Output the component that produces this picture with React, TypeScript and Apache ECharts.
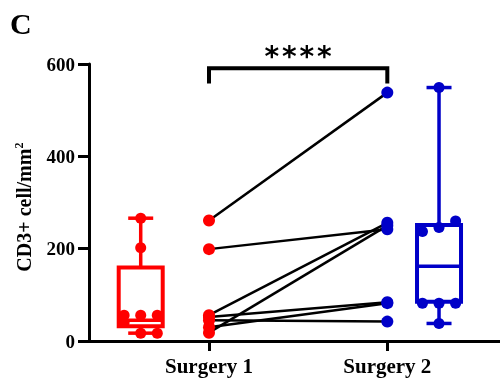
import React, { useEffect, useRef } from "react";
import * as echarts from "echarts";

const categories = ["Surgery 1", "Surgery 2"];
const surgery1Paired = [261, 199, 56, 52, 45, 30, 18];
const surgery2Paired = [538, 242, 256, 84, 42, 82, 250];
// [min, Q1, median, Q3, max]
const boxSurgery1 = [17, 32, 45, 159, 266];
const boxSurgery2 = [38, 85, 162, 251, 549];
const boxPoints1 = [266, 202, 56, 56, 56, 40, 17, 17];
const boxJitter1 = [0, 0, -1, 0, 1, -1, 0, 1];
const boxPoints2 = [549, 260, 246, 237, 82, 82, 82, 38];
const boxJitter2 = [0, 1, 0, -1, -1, 0, 1, 0];
const yTickValues = [0, 200, 400, 600];
const significance = "****";
const yTitle = "CD3+ cell/mm";
const yTitleSup = "2";

const RED = "#ff0000";
const BLUE = "#0000c8";
const FONT = "Liberation Serif";

const pairX = [1, 2];
const boxX = [0.617, 2.29];
const JIT = 0.093;

export default function App() {
  const ref = useRef<HTMLDivElement>(null);
  useEffect(() => {
    if (!ref.current) return;
    const chart = echarts.init(ref.current, null, { renderer: "svg" });

    const pairSeries = surgery1Paired.map((v, i) => ({
      type: "line",
      data: [
        [pairX[0], v],
        [pairX[1], surgery2Paired[i]],
      ],
      symbol: "none",
      lineStyle: { color: "#000", width: 2.5 },
      z: 3,
      silent: true,
    }));

    const boxData = [
      [boxX[0], ...boxSurgery1],
      [boxX[1], ...boxSurgery2],
    ];
    const boxColors = [RED, BLUE];

    chart.setOption({
      animation: false,
      grid: { left: 89, right: 0, top: 64, bottom: 44, containLabel: false },
      xAxis: {
        type: "value",
        min: 0.327,
        max: 2.632,
        splitLine: { show: false },
        axisLine: { show: true, lineStyle: { color: "#000", width: 3 } },
        axisTick: {
          show: true,
          customValues: pairX,
          length: 10,
          lineStyle: { color: "#000", width: 3 },
        },
        axisLabel: {
          customValues: pairX,
          formatter: (v: number) => categories[Math.round(v) - 1] ?? "",
          fontFamily: FONT,
          fontWeight: "bold",
          fontSize: 21,
          color: "#000",
          margin: 14,
        },
      },
      yAxis: {
        type: "value",
        min: 0,
        max: 600,
        interval: 200,
        splitLine: { show: false },
        axisLine: { show: true, lineStyle: { color: "#000", width: 3 } },
        axisTick: { show: true, length: 11, lineStyle: { color: "#000", width: 3 } },
        axisLabel: {
          fontFamily: FONT,
          fontWeight: "bold",
          fontSize: 19,
          color: "#000",
          margin: 14,
          formatter: (v: number) => (yTickValues.includes(v) ? String(v) : ""),
        },
      },
      series: [
        {
          type: "custom",
          data: boxData,
          z: 2,
          silent: true,
          renderItem: (params: any, api: any) => {
            const x = api.value(0);
            const vals = [1, 2, 3, 4, 5].map((k) => api.value(k));
            const c = vals.map((v) => api.coord([x, v]));
            const cx = c[0][0];
            const [ymin, yq1, ymed, yq3, ymax] = c.map((p: number[]) => p[1]);
            const color = boxColors[params.dataIndex];
            const hw = 22;
            const cw = 12.5;
            const ls = { stroke: color, lineWidth: 3.5, fill: "none" };
            return {
              type: "group",
              children: [
                { type: "rect", shape: { x: cx - hw, y: yq3, width: hw * 2, height: yq1 - yq3 }, style: { ...ls, fill: "#fff", lineWidth: 4 } },
                { type: "line", shape: { x1: cx - hw, y1: ymed, x2: cx + hw, y2: ymed }, style: ls },
                { type: "line", shape: { x1: cx, y1: yq3, x2: cx, y2: ymax }, style: ls },
                { type: "line", shape: { x1: cx, y1: yq1, x2: cx, y2: ymin }, style: ls },
                { type: "line", shape: { x1: cx - cw, y1: ymax, x2: cx + cw, y2: ymax }, style: ls },
                { type: "line", shape: { x1: cx - cw, y1: ymin, x2: cx + cw, y2: ymin }, style: ls },
              ],
            };
          },
        },
        {
          type: "scatter",
          data: boxPoints1.map((v, i) => [boxX[0] + boxJitter1[i] * JIT, v]),
          symbolSize: 11,
          itemStyle: { color: RED, opacity: 1 },
          z: 4,
          silent: true,
        },
        {
          type: "scatter",
          data: boxPoints2.map((v, i) => [boxX[1] + boxJitter2[i] * JIT, v]),
          symbolSize: 11,
          itemStyle: { color: BLUE, opacity: 1 },
          z: 4,
          silent: true,
        },
        ...pairSeries,
        {
          type: "scatter",
          data: surgery1Paired.map((v) => [pairX[0], v]),
          symbolSize: 12,
          itemStyle: { color: RED, opacity: 1 },
          z: 5,
          silent: true,
        },
        {
          type: "scatter",
          data: surgery2Paired.map((v) => [pairX[1], v]),
          symbolSize: 12,
          itemStyle: { color: BLUE, opacity: 1 },
          z: 5,
          silent: true,
        },
        {
          type: "line",
          data: [
            [pairX[0], 562],
            [pairX[0], 591],
            [pairX[1], 591],
            [pairX[1], 562],
          ],
          symbol: "none",
          clip: false,
          lineStyle: { color: "#000", width: 4, cap: "square", join: "miter" },
          z: 6,
          silent: true,
        },
      ],
    });

    const mid = chart.convertToPixel({ xAxisIndex: 0, yAxisIndex: 0 }, [(pairX[0] + pairX[1]) / 2, 600]);
    const yMid = chart.convertToPixel({ xAxisIndex: 0, yAxisIndex: 0 }, [pairX[0], 290]);
    const stars = significance.split("");
    const step = 17.5;
    chart.setOption({
      graphic: [
        {
          type: "text",
          left: 10,
          top: 8,
          style: { text: "C", fontFamily: FONT, fontWeight: "bold", fontSize: 30, fill: "#000" },
        },
        {
          type: "text",
          x: 24,
          y: yMid[1],
          rotation: Math.PI / 2,
          style: {
            text: `{a|${yTitle}}{b|${yTitleSup}}`,
            textAlign: "center",
            textVerticalAlign: "middle",
            rich: {
              a: { fontFamily: FONT, fontWeight: "bold", fontSize: 20, fill: "#000", lineHeight: 22 },
              b: { fontFamily: FONT, fontWeight: "bold", fontSize: 12, fill: "#000", lineHeight: 22, verticalAlign: "top" },
            },
          },
        },
        ...stars.map((s, i) => ({
          type: "text",
          x: mid[0] + (i - (stars.length - 1) / 2) * step,
          y: 56,
          style: {
            text: s,
            fontFamily: "DejaVu Sans",
            fontWeight: "bold",
            fontSize: 28,
            fill: "#000",
            textAlign: "center",
            textVerticalAlign: "middle",
          },
        })),
      ],
    });

    return () => chart.dispose();
  }, []);
  return <div ref={ref} style={{ position: "fixed", left: 0, top: 0, width: 500, height: 385 }} />;
}
